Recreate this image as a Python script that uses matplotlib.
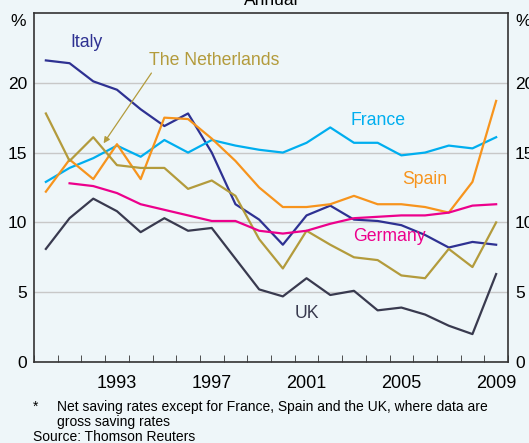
import numpy as np
import matplotlib
matplotlib.use("Agg")
import matplotlib.pyplot as plt

plt.rcParams['font.family'] = ['Liberation Sans', 'DejaVu Sans']

# household saving rates, per cent, annual
years = np.arange(1990, 2010)
italy = [21.6, 21.4, 20.1, 19.5, 18.1, 16.9, 17.8, 15.0, 11.3, 10.2,
         8.4, 10.5, 11.2, 10.2, 10.1, 9.8, 9.1, 8.2, 8.6, 8.4]
france = [12.9, 13.9, 14.6, 15.5, 14.7, 15.9, 15.0, 15.9, 15.5, 15.2,
          15.0, 15.7, 16.8, 15.7, 15.7, 14.8, 15.0, 15.5, 15.3, 16.1]
spain = [12.2, 14.5, 13.1, 15.6, 13.1, 17.5, 17.4, 16.0, 14.4, 12.5,
         11.1, 11.1, 11.3, 11.9, 11.3, 11.3, 11.1, 10.7, 12.9, 18.7]
netherlands = [17.8, 14.4, 16.1, 14.1, 13.9, 13.9, 12.4, 13.0, 11.9, 8.8,
               6.7, 9.4, 8.4, 7.5, 7.3, 6.2, 6.0, 8.1, 6.8, 10.0]
germany_years = np.arange(1991, 2010)
germany = [12.8, 12.6, 12.1, 11.3, 10.9, 10.5, 10.1, 10.1, 9.4,
           9.2, 9.4, 9.9, 10.3, 10.4, 10.5, 10.5, 10.7, 11.2, 11.3]
uk = [8.1, 10.3, 11.7, 10.8, 9.3, 10.3, 9.4, 9.6, 7.4, 5.2,
      4.7, 6.0, 4.8, 5.1, 3.7, 3.9, 3.4, 2.6, 2.0, 6.3]

bg = '#eef6f9'
fig = plt.figure(figsize=(5.29, 4.43), dpi=100, facecolor=bg)
ax = fig.add_axes([0.0643, 0.1828, 0.896, 0.788], facecolor=bg)

lw = 1.6
ax.plot(years, italy, color='#2e3192', lw=lw)
ax.plot(years, france, color='#00aeef', lw=lw)
ax.plot(years, spain, color='#f7941d', lw=lw)
ax.plot(years, netherlands, color='#b39b3c', lw=lw)
ax.plot(germany_years, germany, color='#ec008c', lw=lw)
ax.plot(years, uk, color='#393a4f', lw=lw)

ax.set_xlim(1989.5, 2009.5)
ax.set_ylim(0, 25)
ax.set_yticks([0, 5, 10, 15, 20])
ax.yaxis.grid(True, color='#c8c8c8', lw=1)
ax.set_axisbelow(True)
ax.tick_params(axis='y', length=0, labelsize=12.5, labelright=True, pad=5)

ax.set_xticks([1993, 1997, 2001, 2005, 2009])
ax.set_xticks(np.arange(1989.5, 2010, 1), minor=True)
ax.tick_params(axis='x', which='major', length=0, labelsize=13, pad=9)
ax.tick_params(axis='x', which='minor', length=5, direction='in', color='#333333')

for s in ax.spines.values():
    s.set_color('#333333')
    s.set_linewidth(1.2)

# series labels
fs = 12.7
ax.text(1991.7, 22.9, 'Italy', color='#2e3192', fontsize=fs, ha='center', va='center')
ax.text(1997.1, 21.6, 'The Netherlands', color='#b39b3c', fontsize=fs, ha='center', va='center')
ax.annotate('', xy=(1992.37, 15.5), xytext=(1994.52, 20.86),
            arrowprops=dict(arrowstyle='-|>', color='#b39b3c', lw=0.9, mutation_scale=9))
ax.text(2004.0, 17.3, 'France', color='#00aeef', fontsize=fs, ha='center', va='center')
ax.text(2006.0, 13.1, 'Spain', color='#f7941d', fontsize=fs, ha='center', va='center')
ax.text(2004.5, 9.0, 'Germany', color='#ec008c', fontsize=fs, ha='center', va='center')
ax.text(2001.0, 3.5, 'UK', color='#393a4f', fontsize=fs, ha='center', va='center')

# % markers above the axes
fig.text(18 / 529, 1 - 22 / 443, '%', fontsize=12.5, ha='center', va='center')
fig.text(523 / 529, 1 - 22 / 443, '%', fontsize=12.5, ha='center', va='center')

# title, cut off at the top as in the original
fig.text(0.512, 1 - 5 / 443, 'Annual', fontsize=12.5, ha='center', va='baseline')

# footnotes
fig.text(33 / 529, 1 - 407 / 443, '*', fontsize=10, ha='left', va='center')
fig.text(57 / 529, 1 - 407 / 443, 'Net saving rates except for France, Spain and the UK, where data are',
         fontsize=10, ha='left', va='center')
fig.text(57 / 529, 1 - 422 / 443, 'gross saving rates', fontsize=10, ha='left', va='center')
fig.text(33 / 529, 1 - 437 / 443, 'Source: Thomson Reuters', fontsize=10, ha='left', va='center')

fig.savefig('out.png', dpi=100, facecolor=bg)
